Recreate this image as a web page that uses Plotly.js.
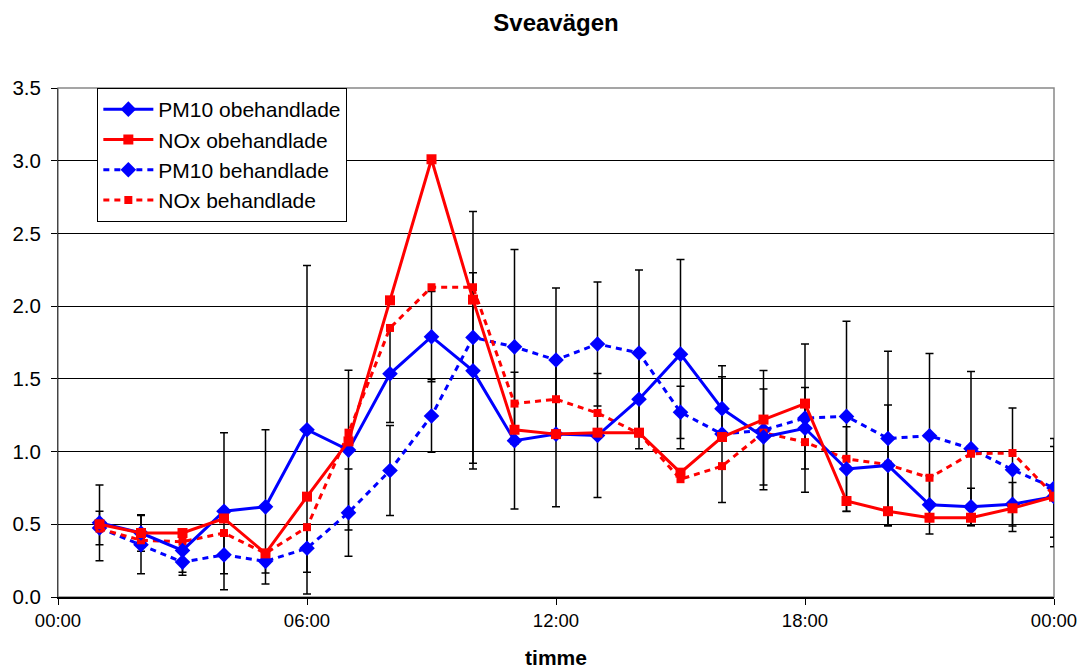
<!DOCTYPE html>
<html>
<head>
<meta charset="utf-8">
<script src="https://cdn.plot.ly/plotly-3.0.1.min.js"></script>
<style>
html,body{margin:0;padding:0;background:#fff;}
#chart{width:1081px;height:672px;}
</style>
</head>
<body>
<div id="chart"></div>
<script>
// hours of the day (1..24)
const hours = [1,2,3,4,5,6,7,8,9,10,11,12,13,14,15,16,17,18,19,20,21,22,23,24];

const pm10Obeh = [0.51,0.44,0.32,0.59,0.62,1.15,1.01,1.535,1.79,1.555,1.075,1.12,1.11,1.36,1.67,1.295,1.10,1.16,0.88,0.905,0.634,0.62,0.638,0.69];
const pm10ObehErr = [0.26,0.125,0.15,0.54,0.53,1.13,0.55,0.335,0.31,0.675,0.47,0.50,0.426,0.34,0.65,0.22,0.33,0.28,0.29,0.415,0.20,0.128,0.149,0.345];

const pm10Beh = [0.475,0.36,0.24,0.29,0.245,0.335,0.58,0.87,1.245,1.785,1.72,1.63,1.74,1.678,1.27,1.12,1.148,1.23,1.242,1.09,1.109,1.02,0.875,0.75];
const pm10BehErr = [0.115,0.20,0.09,0.13,0.08,0.165,0.30,0.31,0.25,0.865,0.67,0.495,0.426,0.57,0.18,0.47,0.41,0.51,0.654,0.60,0.565,0.53,0.425,0.34];

const noxObeh = [0.50,0.44,0.44,0.54,0.30,0.69,1.07,2.04,3.01,2.045,1.15,1.12,1.13,1.13,0.855,1.10,1.22,1.33,0.66,0.59,0.545,0.545,0.61,0.69];
const noxBeh = [0.47,0.39,0.38,0.44,0.30,0.48,1.13,1.85,2.13,2.13,1.33,1.36,1.265,1.125,0.81,0.90,1.13,1.065,0.95,0.91,0.82,0.985,0.99,0.70];

const xTickVals = [0,6,12,18,24];
const xTickText = ["00:00","06:00","12:00","18:00","00:00"];
const yTickVals = [0,0.5,1,1.5,2,2.5,3,3.5];

const BLUE = "#0000FF", RED = "#FF0000";
const errStyle = (arr) => ({type:"data", array:arr, visible:true, color:"#000000", thickness:1.5, width:4});

const traces = [
  {x:hours, y:pm10Obeh, mode:"markers", marker:{size:1, opacity:0}, error_y:errStyle(pm10ObehErr), showlegend:false, hoverinfo:"skip"},
  {x:hours, y:pm10Beh, mode:"markers", marker:{size:1, opacity:0}, error_y:errStyle(pm10BehErr), showlegend:false, hoverinfo:"skip"},
  {x:hours, y:pm10Beh, name:"PM10 behandlade", mode:"lines+markers", legendrank:3, legendgroup:"c",
   line:{color:BLUE, width:3, dash:"6px,5px"}, marker:{symbol:"diamond", size:12, color:BLUE}},
  {x:hours, y:noxBeh, name:"NOx behandlade", mode:"lines+markers", legendrank:4, legendgroup:"d",
   line:{color:RED, width:3, dash:"6px,5px"}, marker:{symbol:"square", size:8, color:RED}},
  {x:hours, y:pm10Obeh, name:"PM10 obehandlade", mode:"lines+markers", legendrank:1, legendgroup:"a",
   line:{color:BLUE, width:3}, marker:{symbol:"diamond", size:12, color:BLUE}},
  {x:hours, y:noxObeh, name:"NOx obehandlade", mode:"lines+markers", legendrank:2, legendgroup:"b",
   line:{color:RED, width:3}, marker:{symbol:"square", size:10, color:RED}}
];

const layout = {
  width:1081, height:672,
  margin:{l:58, r:27, t:88, b:75},
  paper_bgcolor:"#ffffff", plot_bgcolor:"#ffffff",
  font:{family:"Liberation Sans, Arial, sans-serif", color:"#000000", size:18},
  title:{text:"<b>Sveavägen</b>", font:{size:24, family:"Liberation Sans, Arial, sans-serif"}, x:0.5, xref:"paper", xanchor:"center", y:0.967, yref:"container", yanchor:"middle"},
  showlegend:true,
  legend:{x:0.0395, y:1.0, xanchor:"left", yanchor:"top", bgcolor:"#ffffff", bordercolor:"#000000", borderwidth:1,
          font:{size:21}, traceorder:"grouped", tracegroupgap:0, itemwidth:50},
  xaxis:{range:[0,24], tickmode:"array", tickvals:xTickVals, ticktext:xTickText,
         showgrid:false, zeroline:false, showline:true, linecolor:"#000000", linewidth:1.5,
         ticks:"outside", ticklen:6, tickcolor:"#000000", tickfont:{size:18.5},
         title:{text:"<b>timme</b>", font:{size:21}, standoff:20}},
  yaxis:{range:[0,3.5], tickmode:"array", tickvals:yTickVals, tickformat:".1f",
         showgrid:true, gridcolor:"#000000", gridwidth:1, zeroline:false,
         showline:true, linecolor:"#444444", linewidth:1,
         ticks:"outside", ticklen:6, tickcolor:"#000000", tickfont:{size:20.5}, ticklabelstandoff:6},
  shapes:[
    {type:"rect", xref:"paper", yref:"paper", x0:0, x1:1, y0:0, y1:1, line:{color:"#888888", width:1.5}, layer:"below"}
  ]
};

Plotly.newPlot("chart", traces, layout, {displayModeBar:false, staticPlot:true});
</script>
</body>
</html>
